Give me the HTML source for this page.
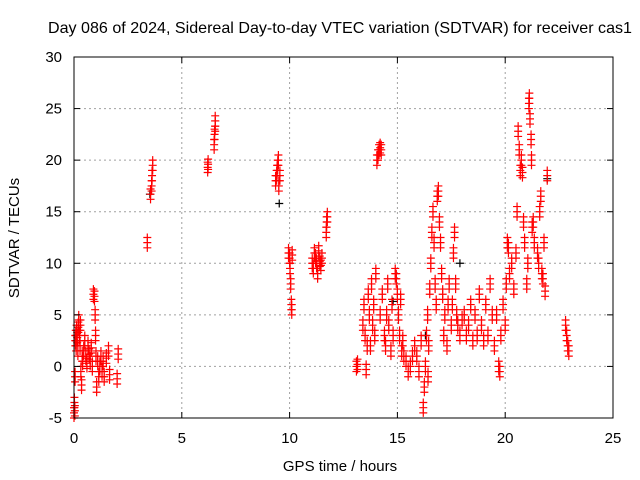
<!DOCTYPE html>
<html><head><meta charset="utf-8"><style>
body{margin:0;background:#fff}
svg{display:block;font-family:"Liberation Sans",sans-serif}
</style></head><body>
<svg id="chart" width="640" height="480" viewBox="0 0 640 480">
<rect width="640" height="480" fill="#fff"/>
<g id="grid"></g>
<g id="marks"></g>
<rect x="74" y="57" width="539" height="361" fill="none" stroke="#000" stroke-width="1"/>
<g id="ticks"></g>
<text x="340" y="33" text-anchor="middle" font-size="16" textLength="584" lengthAdjust="spacingAndGlyphs">Day 086 of 2024, Sidereal Day-to-day VTEC variation (SDTVAR) for receiver cas1</text>
<text x="340" y="471" text-anchor="middle" font-size="15">GPS time / hours</text>
<text transform="translate(19,238) rotate(-90)" text-anchor="middle" font-size="15">SDTVAR / TECUs</text>
</svg>
<script>
const xTicks=[0,5,10,15,20,25];
const yTicks=[-5,0,5,10,15,20,25,30];
const hours=[0.00,0.02,0.04,0.05,0.06,0.08,0.1,0.12,0.15,0.18,0.2,0.22,0.25,0.28,0.3,0.32,0.35,0.38,0.4,0.45,0.5,0.55,0.6,0.65,0.7,0.75,0.8,0.85,0.9,0.95,0.98,1.0,1.02,1.05,1.1,1.15,1.2,1.25,1.3,1.35,1.4,1.5,1.6,1.65,2.05,2.0,
3.4,3.55,3.6,3.62,3.65,6.2,6.22,6.5,6.52,6.55,6.55,
9.35,9.4,9.42,9.45,9.48,9.5,9.55,9.95,10.0,10.02,10.05,10.08,10.1,10.12,
11.05,11.1,11.15,11.2,11.25,11.3,11.35,11.4,11.45,11.5,11.7,11.72,11.75,
13.1,13.15,13.4,13.45,13.5,13.55,13.6,13.65,13.7,13.75,13.8,13.85,13.9,13.95,14.0,14.05,14.1,14.15,14.2,14.25,14.2,14.3,14.4,14.45,14.5,14.55,14.6,14.7,14.75,14.8,14.9,14.95,15.0,15.05,15.1,15.15,15.2,15.25,15.3,15.4,15.5,15.6,15.7,15.8,15.9,16.0,16.1,16.2,16.25,16.3,16.35,16.4,16.42,16.45,16.5,16.55,16.6,16.65,16.7,16.75,16.8,16.85,16.9,16.95,17.0,17.05,17.1,17.15,17.2,17.3,17.35,17.4,17.5,17.55,17.6,17.65,17.7,17.75,17.8,17.9,18.0,18.1,18.2,18.3,18.4,18.5,18.6,18.7,18.8,18.9,19.0,19.1,19.2,19.3,19.4,19.5,19.6,19.7,19.75,19.8,19.9,20.0,20.05,20.1,20.15,20.2,20.3,20.4,20.5,20.55,20.6,20.65,20.7,20.75,20.8,20.85,20.9,21.0,21.05,21.1,21.12,21.15,21.2,21.22,21.25,21.3,21.35,21.5,21.55,21.6,21.65,21.7,21.75,21.8,21.85,21.95,22.8,22.85,22.9,22.95];
const sdtvar=[-4.5,-3.5,-4.3,-1,2.5,3,2,3.5,2.8,1.5,3.8,4.5,3,2,4,-0.5,-1.8,1,0.5,1.5,2.5,1,0.3,2,1.2,0.5,1.8,0,7,6.8,5,3,1,-2,0.5,-1,0,1,-0.5,0.5,-1,0.8,1.5,-0.8,1.2,-1.2,
12,16.7,17.5,18.5,19.5,19.3,19.6,21.5,22.5,23.3,23.8,
18,18.5,19,19.5,20,17.5,18.5,11,10.5,9.5,8,6,5.5,10.8,
10,9.5,11,10.5,10,9,11.2,10.2,9.8,10.5,13,14,14.5,
0,0.2,4,6,3,-0.3,2,7,5,2,8,4,6,3,9,20,20.5,21,21.2,21,5,7,3,2,5,8,4,1.5,6,3,9,8.5,7,5,3,6.5,1.5,2.5,1,0.5,-0.5,0,1,2,1,-0.5,2.5,-4,-2,0,3,5,-1,2,7.5,10,13,15,12,8,6,16.5,17,14,12,9,7,3,5,2,6,8,4,6,11,13,8,5,4,3,4.5,5,3,4,6,2.5,5,3,7,4,2.5,6,3,8,5,2,5,0,-0.5,3,6,4,8,12,11.5,9,10,7.5,11,15,22.8,21,19,20,18.8,14,12,8,10,25.5,26,24,22,20,13.5,14,12,11,10,15,16.5,9,8.5,12,7.3,18.5,4,3,2,1.5];
const blackHours=[3.52,9.52,14.8,16.3,17.9,21.95];
const blackVals=[16.7,15.8,6.3,3,10,18.2];
const X0=74,X1=613,Y0=418,Y1=57;
const xs=v=>X0+(v-0)/25*(X1-X0);
const ys=v=>Y0-(v+5)/35*(Y0-Y1);
const NS='http://www.w3.org/2000/svg';
function mk(t,a,p){const e=document.createElementNS(NS,t);for(const k in a)e.setAttribute(k,a[k]);p.appendChild(e);return e;}
const grid=document.getElementById('grid'),ticks=document.getElementById('ticks'),marks=document.getElementById('marks');
xTicks.forEach(v=>{const x=xs(v);
 if(v>0&&v<25){const g=mk('line',{x1:x,x2:x,y1:Y1,y2:Y0,stroke:'#a0a0a0','stroke-dasharray':'2,3'},grid);}
 mk('line',{x1:x,x2:x,y1:Y0,y2:Y0-6,stroke:'#000'},ticks);mk('line',{x1:x,x2:x,y1:Y1,y2:Y1+6,stroke:'#000'},ticks);
 const t=mk('text',{x:x,y:443,'text-anchor':'middle','font-size':'15'},ticks);t.textContent=v;
 });
yTicks.forEach(v=>{const y=ys(v);
 if(v>-5&&v<30){const g=mk('line',{x1:X0,x2:X1,y1:y,y2:y,stroke:'#a0a0a0','stroke-dasharray':'2,3'},grid);}
 mk('line',{x1:X0,x2:X0+6,y1:y,y2:y,stroke:'#000'},ticks);mk('line',{x1:X1,x2:X1-6,y1:y,y2:y,stroke:'#000'},ticks);
 const t=mk('text',{x:62,y:y+5,'text-anchor':'end','font-size':'15'},ticks);t.textContent=v;
 });
function cross(h,v,c){const x=xs(h),y=ys(v);
 const p=mk('path',{d:`M${x-4},${y}H${x+4}M${x},${y-4}V${y+4}`,stroke:c,'stroke-width':'1.2',fill:'none'},marks);
 }
blackHours.forEach((h,i)=>cross(h,blackVals[i],'#000'));
hours.forEach((h,i)=>{cross(h,sdtvar[i],'#f00');cross(h,sdtvar[i]+0.5,'#f00');cross(h,sdtvar[i]-0.5,'#f00');});
</script>
</body></html>
